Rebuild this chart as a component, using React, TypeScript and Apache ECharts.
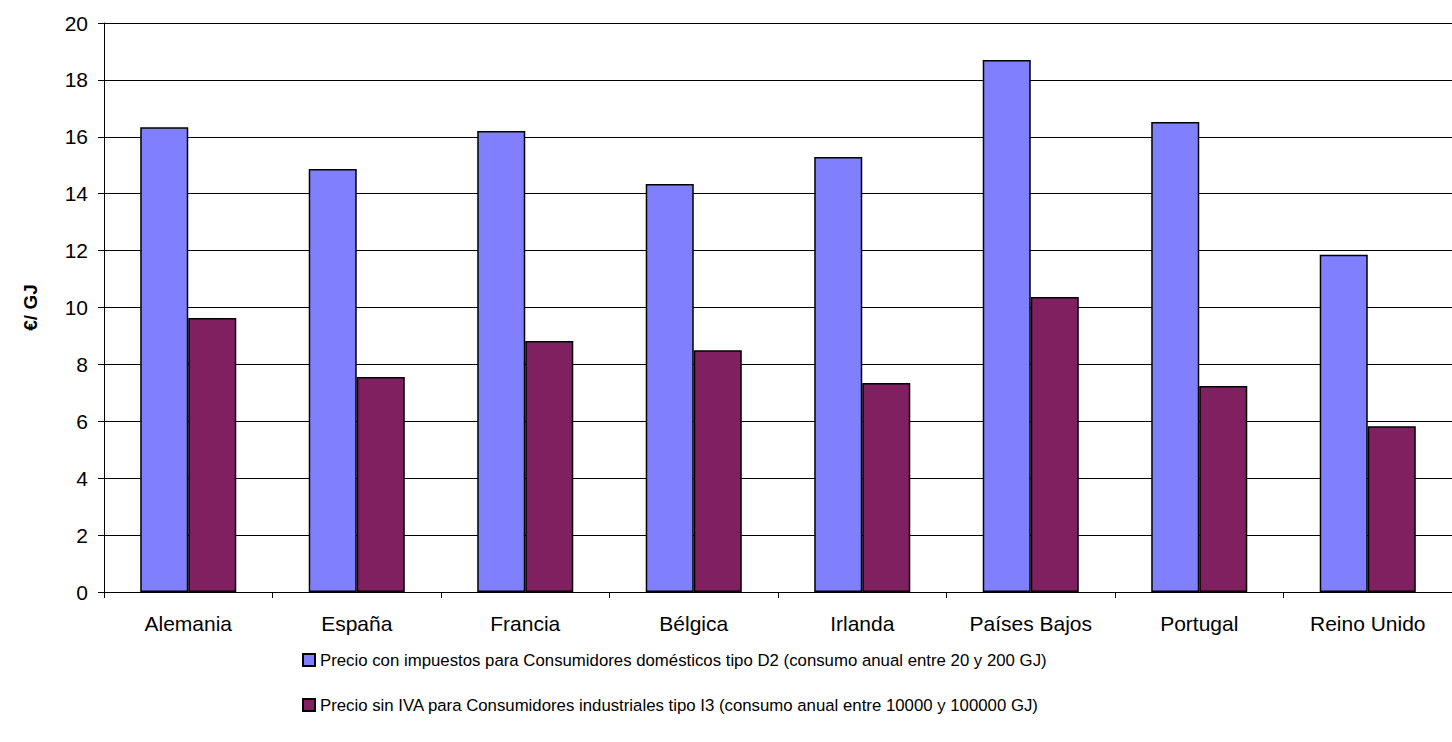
import React, { useEffect, useRef } from "react";
import * as echarts from "echarts";

const categories = ["Alemania", "España", "Francia", "Bélgica", "Irlanda", "Países Bajos", "Portugal", "Reino Unido"];
const domesticPrices = [16.34, 14.87, 16.2, 14.34, 15.29, 18.7, 16.52, 11.85];
const industrialPrices = [9.63, 7.56, 8.82, 8.5, 7.35, 10.37, 7.24, 5.83];
const seriesNames = [
  "Precio con impuestos para Consumidores domésticos tipo D2 (consumo anual entre 20 y 200 GJ)",
  "Precio sin IVA para Consumidores industriales tipo I3 (consumo anual entre 10000 y 100000 GJ)",
];
const yAxisName = "€/ GJ";

export default function App() {
  const ref = useRef<HTMLDivElement>(null);
  useEffect(() => {
    if (!ref.current) return;
    const chart = echarts.init(ref.current, null, { renderer: "svg" });
    const font = "Liberation Sans, Arial, sans-serif";
    chart.setOption({
      animation: false,
      textStyle: { fontFamily: font },
      grid: { left: 104, top: 23, right: 0, bottom: 150, containLabel: false },
      legend: {
        orient: "vertical",
        left: 302,
        top: 649,
        padding: 0,
        itemGap: 23,
        itemWidth: 12,
        itemHeight: 12,
        icon: "rect",
        textStyle: { fontSize: 16.8, color: "#000", fontFamily: font, lineHeight: 22 },
        data: seriesNames,
      },
      xAxis: {
        type: "category",
        data: categories,
        axisLine: { lineStyle: { color: "#000", width: 1 } },
        axisTick: { show: true, length: 6, alignWithLabel: false, lineStyle: { color: "#000" } },
        axisLabel: { fontSize: 21, color: "#000", margin: 21, fontFamily: font },
      },
      yAxis: {
        type: "value",
        min: 0,
        max: 20,
        interval: 2,
        name: yAxisName,
        nameLocation: "middle",
        nameRotate: 90,
        nameGap: 64,
        nameTextStyle: { fontSize: 19, fontWeight: "bold", color: "#000", fontFamily: font },
        axisLine: { show: true, lineStyle: { color: "#000", width: 1 } },
        axisTick: { show: true, length: 6, inside: false, lineStyle: { color: "#000" } },
        axisLabel: { fontSize: 21, color: "#000", margin: 16, fontFamily: font },
        splitLine: { show: true, lineStyle: { color: "#000", width: 1 } },
      },
      series: [
        {
          name: seriesNames[0],
          type: "bar",
          data: domesticPrices,
          barGap: "0%",
          barCategoryGap: "43%",
          itemStyle: { color: "#8080FF", borderColor: "#000", borderWidth: 1.5 },
        },
        {
          name: seriesNames[1],
          type: "bar",
          data: industrialPrices,
          barGap: "0%",
          barCategoryGap: "43%",
          itemStyle: { color: "#802060", borderColor: "#000", borderWidth: 1.5 },
        },
      ],
    });
    return () => chart.dispose();
  }, []);
  return (
    <div
      ref={ref}
      style={{ position: "fixed", left: 0, top: 0, width: 1452, height: 742, background: "#fff" }}
    />
  );
}
